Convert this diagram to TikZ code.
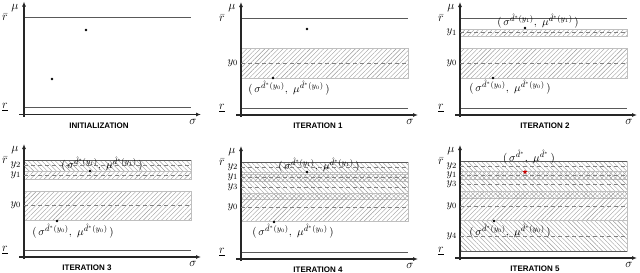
\documentclass[tikz,border=0pt]{standalone}
\usepackage{amsmath,amssymb}
\usepackage{fontspec}
\setsansfont{Liberation Sans}
\usepackage{tikz}
\usetikzlibrary{arrows.meta}
\usetikzlibrary{patterns.meta}
\usetikzlibrary{shapes.geometric}
\usetikzlibrary{backgrounds}

\begin{document}
\begin{tikzpicture}[
  x=1pt, y=-1pt,
  every node/.style={font=\fontsize{11}{13}\selectfont, inner sep=1pt},
  axis/.style={-{Latex[length=5pt,width=4pt]}, line width=1.2pt, black!85},
  bound/.style={black!65, line width=0.8pt},
  bandne/.style={draw=black!25, line width=0.4pt, pattern={Lines[angle=45,distance=3.2pt,line width=0.4pt]}, pattern color=black!40},
  bandnw/.style={draw=black!25, line width=0.4pt, pattern={Lines[angle=-45,distance=3.2pt,line width=0.4pt]}, pattern color=black!40},
  mid/.style={black!50, line width=0.5pt, dash pattern=on 4pt off 3pt},
  pt/.style={circle, fill=black, inner sep=0pt, minimum size=2.8pt},
  best/.style={star, star points=5, star point ratio=2.2, fill=red!80!black, inner sep=0pt, minimum size=5pt},
  axlab/.style={font=\fontsize{12.5}{14}\selectfont, inner sep=0pt},
  ylab/.style={anchor=east, inner sep=1pt},
  lab/.style={font=\fontsize{11}{13}\selectfont, inner sep=0pt},
  ttl/.style={font=\sffamily\bfseries\fontsize{8}{10}\selectfont}
]
\useasboundingbox (0,0) rectangle (640,273);

% ---------- Axes, bounds and titles of the six panels ----------
\foreach \i/\sx/\sy/\ttl/\tx in {1/24/17.5/INITIALIZATION/75, 2/241/18/ITERATION 1/77,
    3/460/18/ITERATION 2/85, 4/24/160/ITERATION 3/63, 5/241/162/ITERATION 4/77,
    6/460/161/ITERATION 5/75}{
  \begin{scope}[shift={(\sx,\sy)}]
    \coordinate (o\i) at (-5,97);
    \coordinate (xe\i) at (177,97);
    \coordinate (yb\i) at (0,99);
    \coordinate (ye\i) at (0,-16);
    \coordinate (rt\i) at (0,0);
    \coordinate (rte\i) at (167,0);
    \coordinate (rb\i) at (0,90);
    \coordinate (rbe\i) at (167,90);
    \draw[bound] (rt\i) -- (rte\i);
    \draw[bound] (rb\i) -- (rbe\i);
    \draw[axis] (o\i) -- (xe\i);
    \draw[axis] (yb\i) -- (ye\i);
    \node[axlab] (mu\i) at (-9,-9.5) {$\mu$};
    \node[axlab] (rbar\i) at (-19,0) {$\bar{r}$};
    \node[axlab] (rlow\i) at (-19,90) {$\underline{r}$};
    \node[axlab] (sig\i) at (169,104) {$\sigma$};
    \node[ttl] (ttl\i) at (\tx,108) {\ttl};
  \end{scope}
}

% ---------- Initialization ----------
\begin{scope}[shift={(24,17.5)}]
  \node[pt] (a1) at (62,12.5) {};
  \node[pt] (b1) at (28,61.5) {};
\end{scope}

% ---------- Iteration 1 ----------
\begin{scope}[shift={(241,18)}]
  \begin{scope}[on background layer]
    \path[bandne] (0,30) rectangle (167,60);
  \end{scope}
  \draw[mid] (0,45) -- (167,45);
  \node[ylab] (y0-2) at (-2,45) {$y_0$};
  \node[pt] (a2) at (66,11) {};
  \node[pt] (b2) at (32,60) {};
  \node[lab] (lb2) at (48,70) {$(\,\sigma^{\hat{d}^*(y_0)},\ \mu^{\hat{d}^*(y_0)}\,)$};
\end{scope}

% ---------- Iteration 2 ----------
\begin{scope}[shift={(460,18)}]
  \begin{scope}[on background layer]
    \path[bandne] (0,30) rectangle (167,60);
    \path[bandne] (0,11) rectangle (167,18);
  \end{scope}
  \draw[mid] (0,45) -- (167,45);
  \draw[mid] (0,14.5) -- (167,14.5);
  \node[ylab] (y0-3) at (-2,45) {$y_0$};
  \node[ylab] (y1-3) at (-2,14.5) {$y_1$};
  \node[pt] (a3) at (65,10) {};
  \node[pt] (b3) at (33,60) {};
  \node[lab] (la3) at (78,3) {$(\,\sigma^{\hat{d}^*(y_1)},\ \mu^{\hat{d}^*(y_1)}\,)$};
  \node[lab] (lb3) at (50,69) {$(\,\sigma^{\hat{d}^*(y_0)},\ \mu^{\hat{d}^*(y_0)}\,)$};
\end{scope}

% ---------- Iteration 3 ----------
\begin{scope}[shift={(24,160)}]
  \begin{scope}[on background layer]
    \path[bandnw] (0,0) rectangle (167,11);
    \path[bandne] (0,11) rectangle (167,19);
    \path[bandne] (0,31) rectangle (167,60);
  \end{scope}
  \draw[mid] (0,5) -- (167,5);
  \draw[mid] (0,15) -- (167,15);
  \draw[mid] (0,45) -- (167,45);
  \node[ylab] (y2-4) at (-2,5) {$y_2$};
  \node[ylab] (y1-4) at (-2,15) {$y_1$};
  \node[ylab] (y0-4) at (-2,45) {$y_0$};
  \node[pt] (a4) at (66,11) {};
  \node[pt] (b4) at (33,61) {};
  \node[lab] (la4) at (78,4) {$(\,\sigma^{\hat{d}^*(y_1)},\ \mu^{\hat{d}^*(y_1)}\,)$};
  \node[lab] (lb4) at (49,71) {$(\,\sigma^{\hat{d}^*(y_0)},\ \mu^{\hat{d}^*(y_0)}\,)$};
\end{scope}

% ---------- Iteration 4 ----------
\begin{scope}[shift={(241,162)}]
  \begin{scope}[on background layer]
    \path[bandnw] (0,0) rectangle (167,10);
    \path[bandne] (0,10) rectangle (167,19);
    \path[bandnw] (0,12) rectangle (167,37);
    \path[bandne] (0,31) rectangle (167,59);
  \end{scope}
  \draw[mid] (0,5) -- (167,5);
  \draw[mid] (0,15) -- (167,15);
  \draw[mid] (0,25) -- (167,25);
  \draw[mid] (0,45) -- (167,45);
  \node[ylab] (y2-5) at (-2,5) {$y_2$};
  \node[ylab] (y1-5) at (-2,15) {$y_1$};
  \node[ylab] (y3-5) at (-2,25) {$y_3$};
  \node[ylab] (y0-5) at (-2,45) {$y_0$};
  \node[pt] (a5) at (66,10) {};
  \node[pt] (b5) at (33,60) {};
  \node[lab] (la5) at (78,3) {$(\,\sigma^{\hat{d}^*(y_1)},\ \mu^{\hat{d}^*(y_1)}\,)$};
  \node[lab] (lb5) at (52,69) {$(\,\sigma^{\hat{d}^*(y_0)},\ \mu^{\hat{d}^*(y_0)}\,)$};
\end{scope}

% ---------- Iteration 5 ----------
\begin{scope}[shift={(460,161)}]
  \begin{scope}[on background layer]
    \path[bandnw] (0,0) rectangle (167,10);
    \path[bandne] (0,10) rectangle (167,18);
    \path[bandnw] (0,10) rectangle (167,37);
    \path[bandne] (0,30) rectangle (167,59);
    \path[bandnw] (0,59) rectangle (167,90);
  \end{scope}
  \draw[mid] (0,5) -- (167,5);
  \draw[mid] (0,14) -- (167,14);
  \draw[mid] (0,23) -- (167,23);
  \draw[mid] (0,45) -- (167,45);
  \draw[mid] (0,75) -- (167,75);
  \node[ylab] (y2-6) at (-2,5) {$y_2$};
  \node[ylab] (y1-6) at (-2,14) {$y_1$};
  \node[ylab] (y3-6) at (-2,23) {$y_3$};
  \node[ylab] (y0-6) at (-2,45) {$y_0$};
  \node[ylab] (y4-6) at (-2,75) {$y_4$};
  \node[best] (a6) at (65,11) {};
  \node[pt] (b6) at (34,60) {};
  \node[lab] (la6) at (69,-4) {$(\,\sigma^{\hat{d}^*},\ \mu^{\hat{d}^*}\,)$};
  \node[lab] (lb6) at (50,70) {$(\,\sigma^{\hat{d}^*(y_0)},\ \mu^{\hat{d}^*(y_0)}\,)$};
\end{scope}

\end{tikzpicture}
\end{document}
